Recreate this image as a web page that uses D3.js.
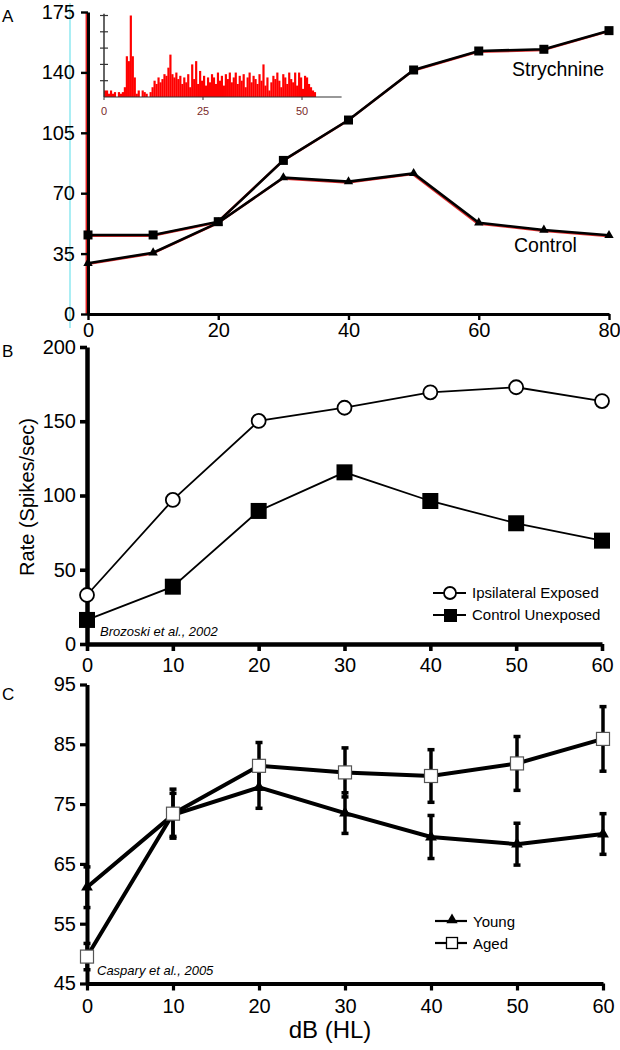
<!DOCTYPE html>
<html><head><meta charset="utf-8">
<script src="https://cdn.jsdelivr.net/npm/d3@7"></script>
<style>
html,body{margin:0;padding:0;background:#fff;}
svg{display:block;font-family:"Liberation Sans",Arial,Helvetica,sans-serif;}
</style></head><body>
<svg id="chart" width="620" height="1050"></svg>
<script>
// ---------- Panel A data ----------
const dbA = [0, 10, 20, 30, 40, 50, 60, 70, 80];
const strychnine = [45.8, 45.8, 53.5, 89, 112.4, 141.4, 152.4, 153.4, 164.2];
const controlA = [29.4, 35.5, 52.9, 79, 76.7, 81.5, 52.9, 48.7, 45.6];
const ticksAy = [0, 35, 70, 105, 140, 175];
const ticksAx = [0, 20, 40, 60, 80];

// inset histogram (bin width 0.5 ms, starting at 0)
const histBinWidth = 0.5;
const histCounts = [
  4, 4, 2, 4, 2, 3, 0, 3, 2, 3, 6,
  25, 22, 50, 25, 12,
  2, 4, 0, 4, 3, 2, 0, 3,
  6, 10, 8, 12, 9, 11, 14, 13,
  18, 26, 14, 12, 15, 11, 13, 8,
  12, 9, 14, 6, 20, 11, 22, 8,
  16, 10, 13, 7, 12, 9, 14, 12,
  8, 15, 10, 13, 7, 14, 11, 15,
  9, 12, 15, 8, 13, 10, 14, 6,
  12, 15, 9, 13, 11, 8, 14, 10,
  20, 7, 12, 4, 9, 13, 11, 15,
  10, 6, 14, 12, 8, 15, 11, 9,
  15, 7, 15, 12, 5, 13, 12, 8,
  6, 4, 3, 0
];
const insetTicksX = [0, 25, 50];
const insetTicksY = [10, 20, 30, 40, 50];

// ---------- Panel B data ----------
const dbB = [0, 10, 20, 30, 40, 50, 60];
const ipsiExposed = [33, 97, 150.2, 159.1, 169.5, 172.9, 163.6];
const controlUnexposed = [16.2, 38.6, 89.6, 115.6, 96.3, 81.3, 69.6];
const ticksBy = [0, 50, 100, 150, 200];
const ticksBx = [0, 10, 20, 30, 40, 50, 60];

// ---------- Panel C data ----------
const dbC = [0, 10, 20, 30, 40, 50, 60];
const young = [61.1, 73.2, 77.8, 73.5, 69.5, 68.3, 70.0];
const youngErr = [3.4, 3.6, 3.5, 3.4, 3.6, 3.5, 3.4];
const aged = [49.5, 73.4, 81.4, 80.3, 79.7, 81.8, 85.9];
const agedErr = [2.2, 4.1, 3.9, 4.1, 4.4, 4.5, 5.4];
const ticksCy = [45, 55, 65, 75, 85, 95];
const ticksCx = [0, 10, 20, 30, 40, 50, 60];

const FONT = '"Liberation Sans",Arial,Helvetica,sans-serif';
const svg = d3.select("#chart");
svg.append("rect").attr("width", 620).attr("height", 1050).attr("fill", "#fff");

function styleAxis(g, w, fs) {
  g.attr("font-size", fs).attr("font-family", FONT);
  g.select(".domain").attr("stroke", "#000").attr("stroke-width", w);
  g.selectAll(".tick line").attr("stroke", "#000").attr("stroke-width", Math.max(2, w * 0.8));
  g.selectAll(".tick text").attr("fill", "#000");
}

// ================= PANEL A =================
const xA = d3.scaleLinear().domain([0, 80]).range([88, 609]);
const yA = d3.scaleLinear().domain([0, 175]).range([314, 12]);

// cyan artifact line
svg.append("line").attr("x1", 70).attr("x2", 70).attr("y1", 3).attr("y2", 328)
  .attr("stroke", "#8fe9f0").attr("stroke-width", 1.5);

// inset histogram
const insX = d3.scaleLinear().domain([0, 60]).range([104, 341.6]);
const insY = d3.scaleLinear().domain([0, 50]).range([97, 15.5]);
const gIns = svg.append("g");
gIns.selectAll("rect.bar").data(histCounts).join("rect").attr("class", "bar")
  .attr("x", (d, i) => insX(i * histBinWidth))
  .attr("width", insX(histBinWidth) - insX(0) + 0.2)
  .attr("y", d => insY(d))
  .attr("height", d => insY(0) - insY(d))
  .attr("fill", "#ff0000");
gIns.append("line").attr("x1", insX(0)).attr("x2", insX(60)).attr("y1", insY(0)).attr("y2", insY(0))
  .attr("stroke", "#333").attr("stroke-width", 1.2);
gIns.append("line").attr("x1", insX(0)).attr("x2", insX(0)).attr("y1", insY(0)).attr("y2", insY(51))
  .attr("stroke", "#333").attr("stroke-width", 1.5);
gIns.selectAll("line.yt").data(insetTicksY).join("line").attr("class", "yt")
  .attr("x1", insX(0) - 4).attr("x2", insX(0) + 4)
  .attr("y1", d => insY(d)).attr("y2", d => insY(d))
  .attr("stroke", "#333").attr("stroke-width", 1.2);
gIns.selectAll("line.xt").data(insetTicksX).join("line").attr("class", "xt")
  .attr("x1", d => insX(d)).attr("x2", d => insX(d))
  .attr("y1", insY(0)).attr("y2", insY(0) + 3)
  .attr("stroke", "#333").attr("stroke-width", 1);
gIns.selectAll("text.xl").data(insetTicksX).join("text").attr("class", "xl")
  .attr("x", d => insX(d)).attr("y", 115).attr("text-anchor", "middle")
  .attr("font-size", 11).attr("font-family", FONT).attr("fill", "#7a2a2a").text(d => d);

// axes A
svg.append("line").attr("x1", 86.3).attr("x2", 86.3).attr("y1", yA(175)).attr("y2", yA(0))
  .attr("stroke", "#e02020").attr("stroke-width", 1.5);
const axAy = svg.append("g").attr("transform", `translate(${xA(0)},0)`)
  .call(d3.axisLeft(yA).tickValues(ticksAy).tickSize(7).tickSizeOuter(0).tickPadding(6));
styleAxis(axAy, 3, 20);
const axAx = svg.append("g").attr("transform", `translate(0,${yA(0)})`)
  .call(d3.axisBottom(xA).tickValues(ticksAx).tickSize(6).tickSizeOuter(0).tickPadding(3));
styleAxis(axAx, 3, 20);

// lines A
const lineA = d3.line().x((d, i) => xA(dbA[i])).y(d => yA(d));
[strychnine, controlA].forEach(s => {
  svg.append("path").attr("d", lineA(s)).attr("fill", "none")
    .attr("stroke", "#e03030").attr("stroke-width", 2.4).attr("transform", "translate(-1,0.8)");
});
[strychnine, controlA].forEach(s => {
  svg.append("path").attr("d", lineA(s)).attr("fill", "none")
    .attr("stroke", "#000").attr("stroke-width", 2.6);
});
svg.append("g").selectAll("rect").data(strychnine).join("rect")
  .attr("x", (d, i) => xA(dbA[i]) - 4.5).attr("y", d => yA(d) - 4.5)
  .attr("width", 9).attr("height", 9).attr("fill", "#000");
svg.append("g").selectAll("path").data(controlA).join("path")
  .attr("d", d3.symbol(d3.symbolTriangle, 38))
  .attr("transform", (d, i) => `translate(${xA(dbA[i])},${yA(d)})`)
  .attr("fill", "#000");

svg.append("text").attr("x", 512).attr("y", 76).attr("font-size", 19.5).attr("font-family", FONT).text("Strychnine");
svg.append("text").attr("x", 514).attr("y", 252).attr("font-size", 19.5).attr("font-family", FONT).text("Control");
svg.append("text").attr("x", 2).attr("y", 22).attr("font-size", 17).attr("font-family", FONT).text("A");

// ================= PANEL B =================
const xB = d3.scaleLinear().domain([0, 60]).range([87, 602]);
const yB = d3.scaleLinear().domain([0, 200]).range([644, 347]);

const axBy = svg.append("g").attr("transform", `translate(${xB(0)},0)`)
  .call(d3.axisLeft(yB).tickValues(ticksBy).tickSize(7).tickSizeOuter(0).tickPadding(4));
styleAxis(axBy, 4.5, 20);
const axBx = svg.append("g").attr("transform", `translate(0,${yB(0)})`)
  .call(d3.axisBottom(xB).tickValues(ticksBx).tickSize(7).tickSizeOuter(0).tickPadding(7));
styleAxis(axBx, 4.5, 20);

const lineB = d3.line().x((d, i) => xB(dbB[i])).y(d => yB(d));
svg.append("path").attr("d", lineB(controlUnexposed)).attr("fill", "none").attr("stroke", "#000").attr("stroke-width", 1.8);
svg.append("path").attr("d", lineB(ipsiExposed)).attr("fill", "none").attr("stroke", "#000").attr("stroke-width", 1.8);
svg.append("g").selectAll("rect").data(controlUnexposed).join("rect")
  .attr("x", (d, i) => xB(dbB[i]) - 8).attr("y", d => yB(d) - 8)
  .attr("width", 16).attr("height", 16).attr("fill", "#000");
svg.append("g").selectAll("circle").data(ipsiExposed).join("circle")
  .attr("cx", (d, i) => xB(dbB[i])).attr("cy", d => yB(d)).attr("r", 7)
  .attr("fill", "#fff").attr("stroke", "#000").attr("stroke-width", 1.8);

// legend B
svg.append("line").attr("x1", 433).attr("x2", 466).attr("y1", 593).attr("y2", 593).attr("stroke", "#000").attr("stroke-width", 2);
svg.append("circle").attr("cx", 450).attr("cy", 593).attr("r", 6).attr("fill", "#fff").attr("stroke", "#000").attr("stroke-width", 1.8);
svg.append("text").attr("x", 472).attr("y", 598).attr("font-size", 15).attr("font-family", FONT).text("Ipsilateral Exposed");
svg.append("line").attr("x1", 433).attr("x2", 466).attr("y1", 615).attr("y2", 615).attr("stroke", "#000").attr("stroke-width", 2);
svg.append("rect").attr("x", 444).attr("y", 609).attr("width", 13).attr("height", 13).attr("fill", "#000");
svg.append("text").attr("x", 472).attr("y", 620).attr("font-size", 15).attr("font-family", FONT).text("Control Unexposed");

svg.append("text").attr("x", 100).attr("y", 636).attr("font-size", 13).attr("font-style", "italic").attr("font-family", FONT).text("Brozoski et al., 2002");
svg.append("text").attr("transform", "translate(34,497) rotate(-90)").attr("text-anchor", "middle")
  .attr("font-size", 20).attr("font-family", FONT).text("Rate (Spikes/sec)");
svg.append("text").attr("x", 2).attr("y", 357).attr("font-size", 17).attr("font-family", FONT).text("B");

// ================= PANEL C =================
const xC = d3.scaleLinear().domain([0, 60]).range([87, 603]);
const yC = d3.scaleLinear().domain([45, 95]).range([983.5, 684.5]);

const axCy = svg.append("g").attr("transform", `translate(${xC(0)},0)`)
  .call(d3.axisLeft(yC).tickValues(ticksCy).tickSize(7).tickSizeOuter(0).tickPadding(4));
styleAxis(axCy, 4, 20);
const axCx = svg.append("g").attr("transform", `translate(0,${yC(45)})`)
  .call(d3.axisBottom(xC).tickValues(ticksCx).tickSize(7).tickSizeOuter(0).tickPadding(8));
styleAxis(axCx, 4, 20);

const lineCy = d3.line().x((d, i) => xC(dbC[i])).y(d => yC(d));
svg.append("path").attr("d", lineCy(young)).attr("fill", "none").attr("stroke", "#000").attr("stroke-width", 4);
svg.append("path").attr("d", lineCy(aged)).attr("fill", "none").attr("stroke", "#000").attr("stroke-width", 4);

function errBars(vals, errs) {
  const g = svg.append("g");
  g.selectAll("line.v").data(vals).join("line").attr("class", "v")
    .attr("x1", (d, i) => xC(dbC[i])).attr("x2", (d, i) => xC(dbC[i]))
    .attr("y1", (d, i) => yC(d + errs[i])).attr("y2", (d, i) => yC(d - errs[i]))
    .attr("stroke", "#000").attr("stroke-width", 3.5);
  ["+", "-"].forEach(sgn => {
    g.selectAll("line.c" + (sgn === "+" ? "u" : "d")).data(vals).join("line").attr("class", "c" + (sgn === "+" ? "u" : "d"))
      .attr("x1", (d, i) => xC(dbC[i]) - 3.5).attr("x2", (d, i) => xC(dbC[i]) + 3.5)
      .attr("y1", (d, i) => yC(sgn === "+" ? d + errs[i] : d - errs[i]))
      .attr("y2", (d, i) => yC(sgn === "+" ? d + errs[i] : d - errs[i]))
      .attr("stroke", "#000").attr("stroke-width", 3.5);
  });
}
errBars(young, youngErr);
errBars(aged, agedErr);

svg.append("g").selectAll("path").data(young).join("path")
  .attr("d", d3.symbol(d3.symbolTriangle, 60))
  .attr("transform", (d, i) => `translate(${xC(dbC[i])},${yC(d)})`)
  .attr("fill", "#000");
svg.append("g").selectAll("rect").data(aged).join("rect")
  .attr("x", (d, i) => xC(dbC[i]) - 6.5).attr("y", d => yC(d) - 6.5)
  .attr("width", 13).attr("height", 13)
  .attr("fill", "#fff").attr("stroke", "#555").attr("stroke-width", 1.2);

// legend C
svg.append("line").attr("x1", 435).attr("x2", 467).attr("y1", 921).attr("y2", 921).attr("stroke", "#000").attr("stroke-width", 2.2);
svg.append("path").attr("d", d3.symbol(d3.symbolTriangle, 55)).attr("transform", "translate(452,920)").attr("fill", "#000");
svg.append("text").attr("x", 473).attr("y", 927).attr("font-size", 15).attr("font-family", FONT).text("Young");
svg.append("line").attr("x1", 435).attr("x2", 467).attr("y1", 943).attr("y2", 943).attr("stroke", "#000").attr("stroke-width", 2.2);
svg.append("rect").attr("x", 446.5).attr("y", 937.5).attr("width", 11).attr("height", 11).attr("fill", "#fff").attr("stroke", "#000").attr("stroke-width", 1.3);
svg.append("text").attr("x", 473).attr("y", 949).attr("font-size", 15).attr("font-family", FONT).text("Aged");

svg.append("text").attr("x", 97).attr("y", 975).attr("font-size", 13).attr("font-style", "italic").attr("font-family", FONT).text("Caspary et al., 2005");
svg.append("text").attr("x", 330).attr("y", 1038).attr("text-anchor", "middle").attr("font-size", 24).attr("font-family", FONT).text("dB (HL)");
svg.append("text").attr("x", 2).attr("y", 700).attr("font-size", 17).attr("font-family", FONT).text("C");
</script>
</body></html>
